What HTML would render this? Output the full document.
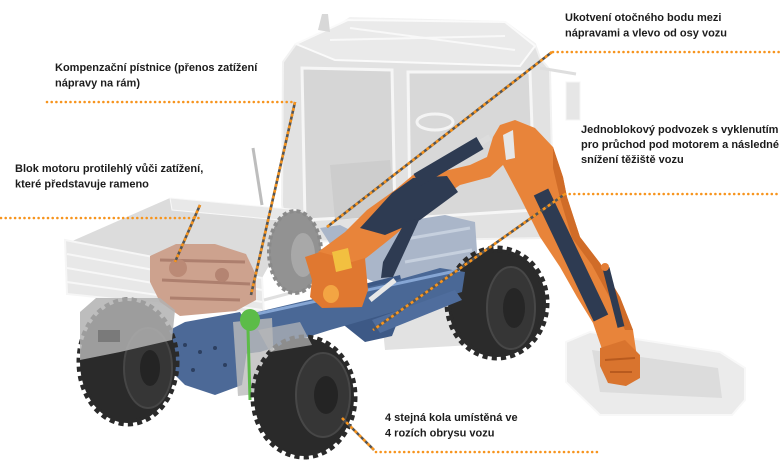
<!DOCTYPE html>
<html>
<head>
<meta charset="utf-8">
<style>
html,body{margin:0;padding:0;background:#fff;}
body{width:784px;height:462px;overflow:hidden;}
svg{display:block;}
text{font-family:"Liberation Sans",Arial,sans-serif;font-weight:bold;font-size:11px;fill:#1c1c1c;}
</style>
</head>
<body>
<svg width="784" height="462" viewBox="0 0 784 462" xmlns="http://www.w3.org/2000/svg">
<rect width="784" height="462" fill="#fff"/>

<!-- CAB -->
<path d="M283,62 L296,44 L335,28 L350,18 L505,22 L535,44 L540,58 L550,70 L553,205 L545,238 L290,242 L282,205 Z" fill="#e2e2e2" stroke="#f2f2f2" stroke-width="2"/>
<path d="M296,44 L348,20 L505,22 L535,46 L520,66 L335,60 Z" fill="#eaeaea" stroke="#fafafa" stroke-width="2"/>
<path d="M330,40 L505,36 M350,28 L515,50" stroke="#f8f8f8" stroke-width="2" fill="none"/>
<path d="M302,68 L392,70 L395,215 L305,220 Z" fill="#d6d6d6" stroke="#f6f6f6" stroke-width="3"/>
<path d="M408,72 L530,72 L535,210 L410,218 Z" fill="#d8d8d8" stroke="#f6f6f6" stroke-width="3"/>
<path d="M330,165 L390,160 L395,215 L335,220 Z" fill="#cdcdcd"/>
<ellipse cx="435" cy="122" rx="18" ry="8" fill="none" stroke="#f4f4f4" stroke-width="3"/>
<path d="M318,30 L322,14 L328,14 L330,32 Z" fill="#d8d8d8"/>
<path d="M540,68 L576,74" stroke="#dedede" stroke-width="3"/>
<rect x="566" y="82" width="14" height="38" fill="#e6e6e6" stroke="#f5f5f5"/>
<path d="M253,148 L262,205" stroke="#bdbdbd" stroke-width="3"/>

<!-- TRUCK BED -->
<path d="M70,242 L170,198 L300,210 L262,278 Z" fill="#dcdcdc"/>
<path d="M170,198 L300,210 L302,222 L172,210 Z" fill="#e8e8e8" stroke="#f8f8f8"/>
<path d="M65,240 L262,278 L264,314 L67,294 Z" fill="#e8e8e8" stroke="#f6f6f6" stroke-width="2"/>
<path d="M67,254 L262,290 M67,268 L262,302 M67,282 L262,310" stroke="#f7f7f7" stroke-width="2" fill="none"/>
<path d="M300,210 L302,290 L264,300" fill="none" stroke="#e0e0e0" stroke-width="3"/>

<!-- Rear-left faded wheel -->
<ellipse cx="295" cy="252" rx="26" ry="41" fill="#929292" stroke="#8a8a8a" stroke-width="4" stroke-dasharray="4 3"/>
<ellipse cx="303" cy="255" rx="12" ry="22" fill="#a8a8a8"/>

<!-- light blue translucent chassis part -->
<path d="M320,228 L340,225 L360,235 L400,222 L445,215 L475,222 L478,265 L465,295 L420,300 L395,300 L380,285 L345,268 Z" fill="#aab6c9"/>
<path d="M400,240 L470,228 M405,262 L472,250" stroke="#c6d0de" stroke-width="3"/>
<!-- light cab frame under chassis -->
<path d="M380,300 L470,290 L472,345 L385,350 Z" fill="#e2e2e2"/>

<!-- Rear-right wheel -->
<ellipse cx="497" cy="303" rx="49" ry="54" fill="#2b2b2b" stroke="#2b2b2b" stroke-width="7" stroke-dasharray="5 4"/>
<ellipse cx="511" cy="308" rx="24" ry="41" fill="#363636" stroke="#474747" stroke-width="2"/>
<ellipse cx="514" cy="308" rx="11" ry="20" fill="#262626"/>

<!-- ENGINE -->
<path d="M150,256 L176,244 L215,244 L246,254 L256,275 L256,300 L236,311 L180,316 L160,302 L150,282 Z" fill="#cda28e"/>
<path d="M160,260 L245,262 M162,280 L250,284 M170,298 L240,300" stroke="#ad7f6e" stroke-width="3" fill="none"/>
<circle cx="178" cy="268" r="9" fill="#bb8a76"/>
<circle cx="222" cy="275" r="7" fill="#b48472"/>

<!-- BLUE CHASSIS -->
<path d="M340,290 L400,275 L406,300 L392,336 L365,342 L340,322 Z" fill="#3d5986"/>
<path d="M215,322 L300,302 L390,282 L440,268 L465,272 L462,292 L400,310 L330,330 L260,352 L225,356 Z" fill="#4a6896"/>
<path d="M220,322 L460,270" stroke="#86a6d4" stroke-width="3"/>
<path d="M372,320 L455,290 L462,300 L380,333 Z" fill="#4f6d9d"/>
<path d="M160,335 L185,322 L240,312 L250,330 L242,385 L215,395 L185,385 L165,365 Z" fill="#4c6997"/>
<circle cx="185" cy="345" r="2" fill="#2c3f60"/><circle cx="200" cy="352" r="2" fill="#2c3f60"/><circle cx="215" cy="348" r="2" fill="#2c3f60"/>
<circle cx="193" cy="370" r="2" fill="#2c3f60"/><circle cx="225" cy="365" r="2" fill="#2c3f60"/>

<!-- Front-left wheel -->
<ellipse cx="128" cy="362" rx="48" ry="61" fill="#2a2a2a" stroke="#2a2a2a" stroke-width="7" stroke-dasharray="5 4"/>
<ellipse cx="148" cy="368" rx="24" ry="40" fill="#363636" stroke="#464646" stroke-width="2"/>
<ellipse cx="150" cy="368" rx="10" ry="18" fill="#242424"/>
<path d="M80,312 L96,298 L160,298 L175,310 L172,340 L120,352 L80,360 Z" fill="#b2b2b2" opacity="0.85"/>
<rect x="98" y="330" width="22" height="12" fill="#7a7a7a"/>

<!-- gray translucent box -->
<path d="M233,322 L272,318 L275,392 L238,396 Z" fill="#bcbcbc" opacity="0.8"/>

<!-- green part -->
<ellipse cx="250" cy="320" rx="10" ry="11" fill="#5cbc48"/>
<path d="M248,330 L250,400" stroke="#5cbc48" stroke-width="3"/>

<!-- Front-right wheel -->
<ellipse cx="304" cy="397" rx="50" ry="59" fill="#2a2a2a" stroke="#2a2a2a" stroke-width="7" stroke-dasharray="5 4"/>
<ellipse cx="323" cy="395" rx="27" ry="42" fill="#363636" stroke="#474747" stroke-width="2"/>
<ellipse cx="326" cy="395" rx="12" ry="19" fill="#242424"/>
<path d="M258,330 L300,322 L312,345 L270,352 Z" fill="#b8b8b8" opacity="0.7"/>

<!-- MOWER -->
<path d="M566,342 L590,332 L720,352 L745,368 L745,400 L732,415 L600,415 L566,382 Z" fill="#ebebeb" stroke="#f8f8f8" stroke-width="2"/>
<path d="M592,350 L718,368 L722,398 L600,392 Z" fill="#dcdcdc"/>

<!-- BOOM + STICK (orange) -->
<path d="M318,252 L345,232 L367,210 L395,190 L413,175 L440,172 L470,165 L487,157 L493,137 L500,125 L515,120 L535,128 L553,147 L563,177 L567,197 L580,237 L600,263 L620,297 L633,330 L637,357 L603,352 L593,323 L577,297 L560,267 L540,237 L520,197 L503,165 L490,177 L460,185 L420,213 L395,235 L370,255 L350,270 Z" fill="#e8843a"/>
<!-- elbow opening -->
<path d="M503,135 L513,130 L515,158 L506,160 Z" fill="#e6e6e6"/>
<!-- darker shading strip on stick -->
<path d="M553,147 L563,177 L567,197 L580,237 L600,263 L620,297 L633,330 L625,330 L610,298 L592,265 L572,238 L560,198 L553,168 Z" fill="#d06c28"/>
<!-- bracket -->
<path d="M305,257 L320,252 L335,256 L352,262 L365,258 L368,290 L362,307 L322,308 L310,297 L312,280 Z" fill="#e07830"/>
<ellipse cx="331" cy="294" rx="8" ry="9" fill="#f3a543"/>
<path d="M332,252 L348,248 L352,268 L336,272 Z" fill="#f2c040"/>
<!-- navy parts of boom -->
<path d="M360,228 L392,193 L413,178 L447,176 L458,192 L420,220 L385,235 Z" fill="#2e3b52"/>
<path d="M405,222 L420,218 L393,277 L381,278 L383,262 Z" fill="#2e3b52"/>
<path d="M417,180 L480,143" stroke="#2e3b52" stroke-width="14"/>
<path d="M480,143 L490,137" stroke="#dcdcdc" stroke-width="6"/>
<path d="M395,280 L370,300" stroke="#e8e8e8" stroke-width="5"/>
<!-- stick cylinders -->
<path d="M541,192 L601,318" stroke="#2e3b52" stroke-width="16"/>
<path d="M606,268 L621,327" stroke="#2e3b52" stroke-width="7"/>
<circle cx="605" cy="267" r="4" fill="#e47d35"/>
<!-- bucket -->
<path d="M600,348 L625,340 L640,355 L640,378 L626,386 L608,383 L600,366 Z" fill="#d9742e"/>
<path d="M605,360 L635,358 M610,372 L632,372" stroke="#b85a1e" stroke-width="2"/>

<!-- CALLOUT LINES -->
<g fill="none" stroke-width="2.6">
  <g stroke="#555" stroke-width="2.6">
    <path d="M295,102 L251,295"/>
    <path d="M200,205 L175,262"/>
    <path d="M552,52 L327,227"/>
    <path d="M565,194 L373,330"/>
    <path d="M342,418 L374,450"/>
  </g>
  <g stroke="#f7941d" stroke-width="2.6" stroke-dasharray="3 3">
    <path d="M295,102 L251,295"/>
    <path d="M200,205 L175,262"/>
    <path d="M552,52 L327,227"/>
    <path d="M565,194 L373,330"/>
    <path d="M342,418 L374,450"/>
  </g>
  <g stroke="#f7941d" stroke-width="2.6" stroke-linecap="round" stroke-dasharray="0 4.7">
    <path d="M47,102 L295,102"/>
    <path d="M1,218 L200,218"/>
    <path d="M553,52 L782,52"/>
    <path d="M565,194 L778,194"/>
    <path d="M376,452 L598,452"/>
  </g>
</g>

<!-- LABELS -->
<text x="55" y="71">Kompenzační pístnice (přenos zatížení</text>
<text x="55" y="86.5">nápravy na rám)</text>
<text x="15" y="172">Blok motoru protilehlý vůči zatížení,</text>
<text x="15" y="187.5">které představuje rameno</text>
<text x="565" y="21">Ukotvení otočného bodu mezi</text>
<text x="565" y="36.5">nápravami a vlevo od osy vozu</text>
<text x="581" y="133">Jednoblokový podvozek s vyklenutím</text>
<text x="581" y="148">pro průchod pod motorem a následné</text>
<text x="581" y="163">snížení těžiště vozu</text>
<text x="385" y="421">4 stejná kola umístěná ve</text>
<text x="385" y="436.5">4 rozích obrysu vozu</text>
</svg>
</body>
</html>
